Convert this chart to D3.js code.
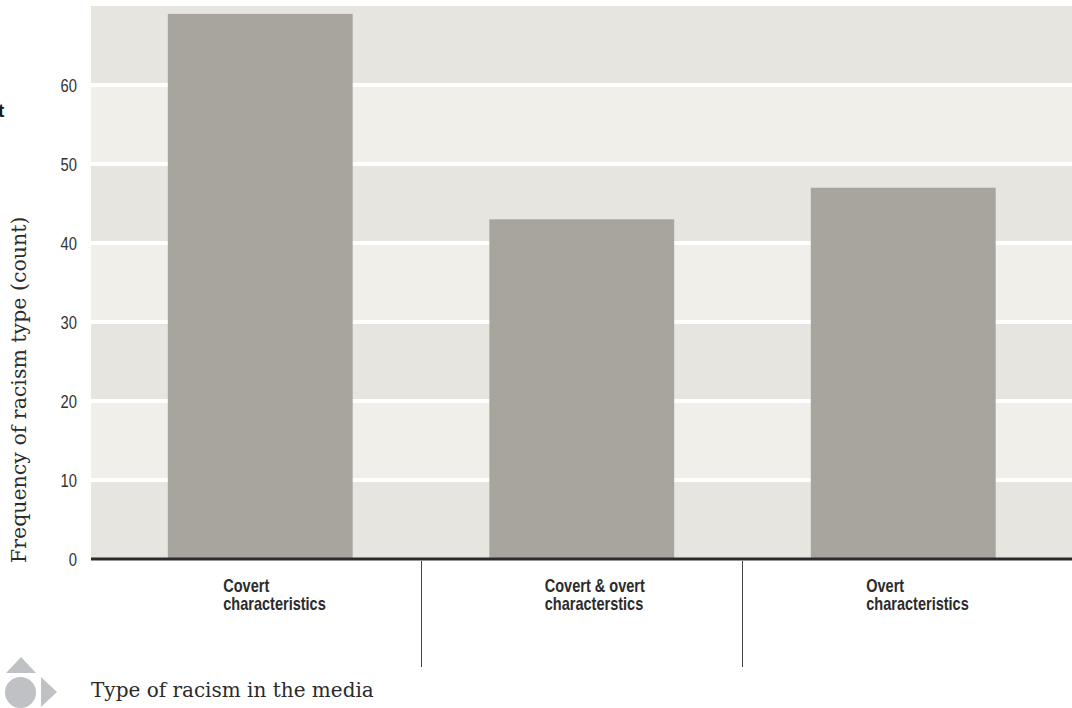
<!DOCTYPE html>
<html>
<head>
<meta charset="utf-8">
<script src="https://cdn.jsdelivr.net/npm/d3@7"></script>
<style>
  html, body { margin: 0; padding: 0; background: #ffffff; }
  svg { display: block; }
</style>
</head>
<body>
<svg id="chart" width="1072" height="708"></svg>
<script>
// Categories (each label split into its two printed lines) and counts
const categories = ["Covert characteristics", "Covert & overt characterstics", "Overt characteristics"];
const labelLines = [["Covert", "characteristics"], ["Covert & overt", "characterstics"], ["Overt", "characteristics"]];
const counts = [69, 43, 47];
const yTicks = [0, 10, 20, 30, 40, 50, 60];
const yMax = 70;

const svg = d3.select("#chart");
const plot = { left: 91, right: 1072, top: 6, bottom: 559 };
const narrow = 0.8; // horizontal squeeze for the condensed sans labels
const sans = "'Liberation Sans', Arial, sans-serif";
const serif = "'DejaVu Serif', serif";

const y = d3.scaleLinear().domain([0, yMax]).range([plot.bottom, plot.top]);
const x = d3.scaleBand().domain(categories).range([99.5, 1064]).paddingInner(0.425).paddingOuter(0.2125);

// Alternating background bands, one per 10 units
const bands = d3.range(0, yMax, 10);
svg.append("g").selectAll("rect").data(bands).join("rect")
  .attr("x", plot.left).attr("width", plot.right - plot.left)
  .attr("y", d => y(d + 10)).attr("height", d => y(d) - y(d + 10))
  .attr("fill", (d, i) => i % 2 === 0 ? "#e6e5e0" : "#f0efea");

// White gridlines
svg.append("g").selectAll("line").data(yTicks.filter(d => d > 0)).join("line")
  .attr("x1", plot.left).attr("x2", plot.right)
  .attr("y1", d => y(d)).attr("y2", d => y(d))
  .attr("stroke", "#ffffff").attr("stroke-width", 4);

// Bars
svg.append("g").selectAll("rect").data(categories).join("rect")
  .attr("x", d => x(d)).attr("width", x.bandwidth())
  .attr("y", (d, i) => y(counts[i])).attr("height", (d, i) => y(0) - y(counts[i]))
  .attr("fill", "#a8a59e");

// Baseline
svg.append("line")
  .attr("x1", plot.left).attr("x2", plot.right)
  .attr("y1", y(0)).attr("y2", y(0))
  .attr("stroke", "#2b2b2b").attr("stroke-width", 3);

// Y axis tick labels (condensed)
svg.append("g").selectAll("text").data(yTicks).join("text")
  .attr("transform", d => `translate(77,${y(d)}) scale(${narrow},1)`)
  .attr("text-anchor", "end").attr("dy", "0.36em")
  .attr("font-family", sans).attr("font-size", 18.5).attr("fill", "#333333")
  .text(d => d3.format("d")(d));

// Category separators below the axis
const step = x.step();
const seps = categories.slice(1).map(c => x(c) - x.paddingInner() * step / 2);
svg.append("g").selectAll("line").data(seps).join("line")
  .attr("x1", d => Math.round(d) + 0.5).attr("x2", d => Math.round(d) + 0.5)
  .attr("y1", plot.bottom + 2).attr("y2", 667)
  .attr("stroke", "#444444").attr("stroke-width", 1);

// Category labels (bold condensed, two lines, left-aligned)
const lab = svg.append("g").selectAll("text").data(categories).join("text")
  .attr("transform", d => `translate(${x(d) + x.bandwidth() / 2 - 37},592) scale(0.83,1)`)
  .attr("font-family", sans).attr("font-weight", "bold").attr("font-size", 17.5).attr("fill", "#2b2b2b");
lab.each(function(d, i) {
  const t = d3.select(this);
  labelLines[i].forEach((line, k) => {
    t.append("tspan").attr("x", 0).attr("dy", k === 0 ? 0 : 18).text(line);
  });
});

// Axis titles
svg.append("text")
  .attr("transform", "translate(26,563) rotate(-90)")
  .attr("font-family", serif).attr("font-size", 20.5).attr("fill", "#2b2b2b")
  .text("Frequency of racism type (count)");

svg.append("text")
  .attr("x", 91).attr("y", 697)
  .attr("font-family", serif).attr("font-size", 20).attr("fill", "#2b2b2b")
  .text("Type of racism in the media");

// Clipped heading fragment at the left edge
svg.append("text")
  .attr("x", -2).attr("y", 117)
  .attr("font-family", sans).attr("font-weight", "bold")
  .attr("font-size", 19).attr("fill", "#1a1a1a")
  .text("t");

// Navigation glyph: triangle, circle, arrow
const icon = svg.append("g").attr("fill", "#c0c1c5");
icon.append("path").attr("d", "M6,673 L21,657 L36,673 Z");
icon.append("circle").attr("cx", 20.5).attr("cy", 692.5).attr("r", 15.5);
icon.append("path").attr("d", "M41,677 L57,692 L41,707 Z");
</script>
</body>
</html>
